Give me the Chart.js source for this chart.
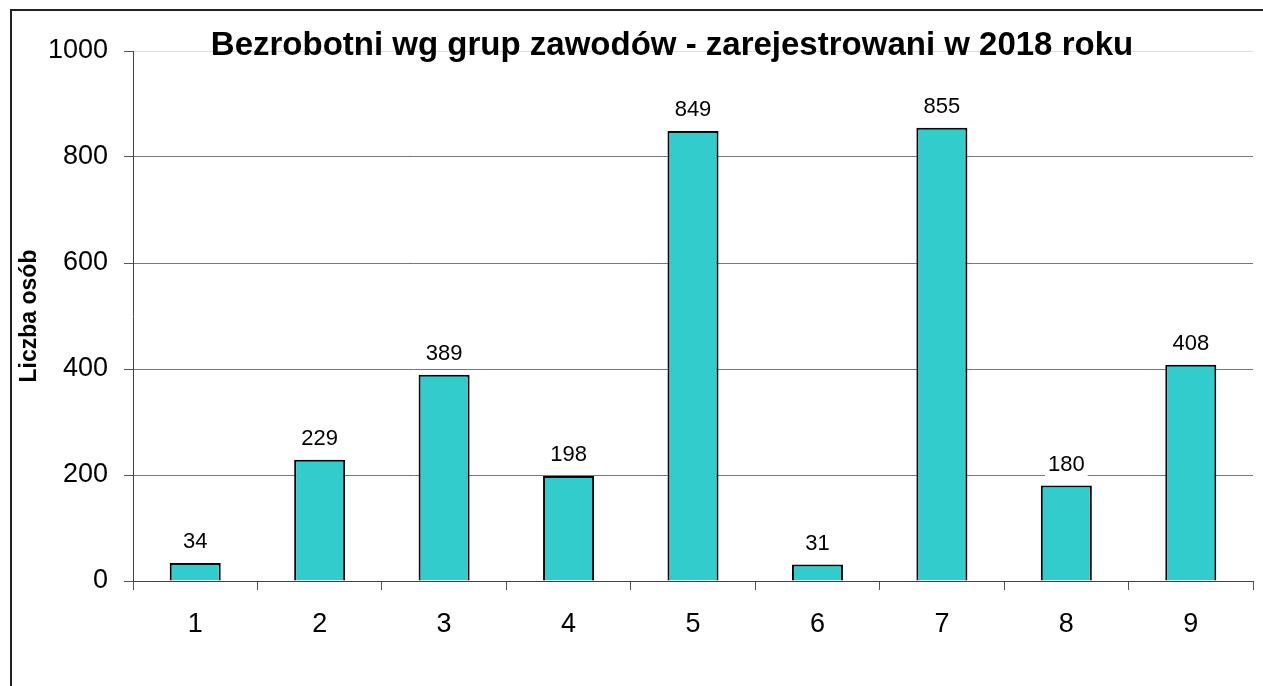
<!DOCTYPE html>
<html>
<head>
<meta charset="utf-8">
<script src="https://cdn.jsdelivr.net/npm/chart.js@4.4.0/dist/chart.umd.min.js"></script>
<style>
  html, body { margin: 0; padding: 0; background: #fff; }
  #wrap { width: 1263px; height: 686px; position: relative; }
</style>
</head>
<body>
<div id="wrap"><canvas id="chart"></canvas></div>
<script>
// ===== Data =====
const groups = ['1', '2', '3', '4', '5', '6', '7', '8', '9'];
const unemployed = [34, 229, 389, 198, 849, 31, 855, 180, 408];
const yTicks = [0, 200, 400, 600, 800, 1000];

const chartTitle = 'Bezrobotni wg grup zawodów - zarejestrowani w 2018 roku';
const yTitle = 'Liczba osób';
const FONT = '"Liberation Sans", Arial, sans-serif';

// ===== Frame, title, axis title and value labels =====
const decorPlugin = {
  id: 'decor',
  afterDatasetsDraw(chart) {
    const ctx = chart.ctx;
    const meta = chart.getDatasetMeta(0);

    // value labels with white box
    ctx.save();
    ctx.font = `22px ${FONT}`;
    ctx.textAlign = 'center';
    ctx.textBaseline = 'middle';
    meta.data.forEach((bar, i) => {
      const txt = String(unemployed[i]);
      const w = ctx.measureText(txt).width;
      const cy = bar.y - 21;
      ctx.fillStyle = '#fff';
      ctx.fillRect(bar.x - w / 2 - 3, cy - 13, w + 6, 26);
      ctx.fillStyle = '#000';
      ctx.fillText(txt, bar.x, cy);
    });
    ctx.restore();
  },
  afterDraw(chart) {
    const ctx = chart.ctx;
    ctx.save();
    // outer border
    ctx.strokeStyle = '#222';
    ctx.lineWidth = 2;
    ctx.strokeRect(11, 10, 1400, 1000);

    // title
    ctx.fillStyle = '#000';
    ctx.font = `bold 33px ${FONT}`;
    ctx.textAlign = 'center';
    ctx.textBaseline = 'alphabetic';
    ctx.fillText(chartTitle, 672, 55);

    // y axis title
    ctx.translate(30, 316);
    ctx.rotate(-Math.PI / 2);
    ctx.font = `bold 23px ${FONT}`;
    ctx.textBaseline = 'middle';
    ctx.fillText(yTitle, 0, 0);
    ctx.restore();
  }
};

new Chart(document.getElementById('chart').getContext('2d'), {
  type: 'bar',
  data: {
    labels: groups,
    datasets: [{
      label: chartTitle,
      data: unemployed,
      backgroundColor: '#33CCCC',
      borderColor: '#000',
      borderWidth: 2,
      barPercentage: 0.41,
      categoryPercentage: 1
    }]
  },
  options: {
    responsive: true,
    maintainAspectRatio: false,
    animation: false,
    layout: { padding: { left: 0, right: 10, top: 51, bottom: 0 } },
    plugins: { legend: { display: false }, tooltip: { enabled: false }, title: { display: false } },
    scales: {
      x: {
        offset: true,
        grid: { offset: true, drawOnChartArea: false, drawTicks: true, tickLength: 9, color: '#555' },
        border: { color: '#444', width: 1 },
        ticks: { color: '#000', font: { family: FONT, size: 27 }, padding: 18, maxRotation: 0 },
        afterFit(scale) { scale.height = 105; }
      },
      y: {
        min: 0,
        max: 1000,
        afterBuildTicks(scale) { scale.ticks = yTicks.map(v => ({ value: v })); },
        grid: {
          color: ctx => (ctx.tick && ctx.tick.value === 1000 ? '#dddddd' : '#777'),
          tickColor: '#555',
          tickLength: 9,
          lineWidth: 1
        },
        border: { color: '#444', width: 1 },
        ticks: { color: '#000', font: { family: FONT, size: 27 }, padding: 16, callback: v => String(v) },
        afterFit(scale) { scale.width = 133; }
      }
    }
  },
  plugins: [decorPlugin]
});
</script>
</body>
</html>
